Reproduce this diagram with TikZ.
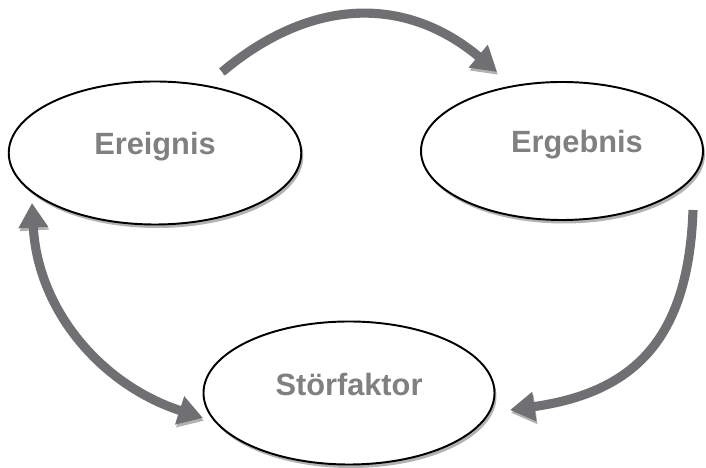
\documentclass[tikz,border=0pt]{standalone}
\usepackage{fontspec}
\setmainfont{Liberation Sans}
\usepackage{tikz}
\usetikzlibrary{positioning, shapes.geometric, calc, arrows.meta, shadows}
\definecolor{arrowgray}{RGB}{112,112,114}
\definecolor{shadegray}{RGB}{178,178,178}
\definecolor{textgray}{RGB}{128,128,130}
\tikzstyle{blob} = [ellipse, minimum width=5.85cm, minimum height=2.86cm, inner sep=0pt, draw=black, line width=1.1pt, fill=white, drop shadow={shadow xshift=0.04cm, shadow yshift=-0.07cm, fill=shadegray, opacity=1}]
\tikzstyle{tag} = [anchor=base, text=textgray, font=\bfseries\fontsize{17.5}{20}\selectfont]
\tikzstyle{flow} = [line width=5.2pt, draw=arrowgray, preaction={draw=shadegray, transform canvas={xshift=0.6pt, yshift=-1.6pt}}]
\tikzstyle{arrow} = [->, >={Triangle[width=16pt, length=14pt]}]
\tikzstyle{dblarrow} = [<->, >={Triangle[width=16pt, length=14pt]}]

\begin{document}
\begin{tikzpicture}[node distance=4cm]
  \useasboundingbox (0,0) rectangle (14.12,9.36);
  %三个椭圆
  \node (ereignis) [blob] at (3.1,6.3) {};
  \node (ergebnis) [blob, minimum width=5.64cm, minimum height=2.76cm, right of=ereignis, xshift=4.14cm, yshift=0.04cm] {};
  \node (stoerfaktor) [blob, minimum width=5.82cm, below of=ereignis, xshift=3.88cm, yshift=-0.8cm] {};

  \node (ereignis-t) [tag] at ($(ereignis)+(0,-0.03)$) {Ereignis};
  \node (ergebnis-t) [tag] at ($(ergebnis)+(0.3,-0.04)$) {Ergebnis};
  \node (stoerfaktor-t) [tag] at ($(stoerfaktor)+(0,-0.06)$) {Störfaktor};

  %箭头端点
  \coordinate (e1) at ($(ereignis)+(1.34,1.62)$);
  \coordinate (g1) at ($(ergebnis)+(-1.30,1.58)$);
  \coordinate (e2) at ($(ereignis)+(-2.46,-1.0)$);
  \coordinate (s1) at ($(stoerfaktor)+(-2.92,-0.5)$);
  \coordinate (g2) at ($(ergebnis)+(2.62,-1.18)$);
  \coordinate (s2) at ($(stoerfaktor)+(3.22,-0.34)$);

  %连接
  \draw [flow, arrow] (e1) to[out=40, in=140, looseness=1.1] (g1);
  \draw [flow, arrow] (g2) to[out=-92, in=8, looseness=1.2] (s2);
  \draw [flow, dblarrow] (e2) to[out=-87, in=162] (s1);
\end{tikzpicture}
\end{document}
